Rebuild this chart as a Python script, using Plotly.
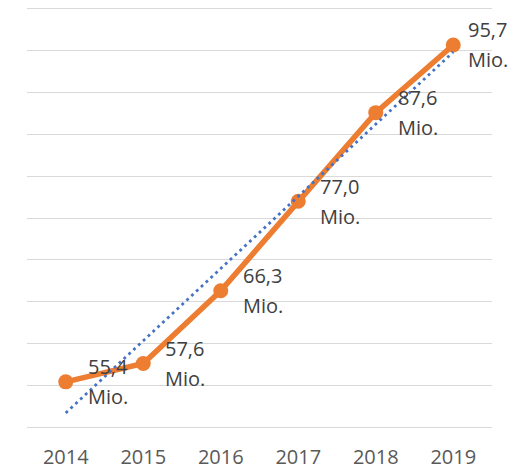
import numpy as np
import plotly.graph_objects as go

years = ["2014", "2015", "2016", "2017", "2018", "2019"]
values = [55.4, 57.6, 66.3, 77.0, 87.6, 95.7]
value_labels = ["55,4", "57,6", "66,3", "77,0", "87,6", "95,7"]
unit_label = "Mio."

xi = np.arange(len(values))
slope, intercept = np.polyfit(xi, values, 1)
trend = [float(slope * i + intercept) for i in xi]

FONT = "Open Sans"
TICK_GREY = "#595959"
LABEL_GREY = "#404040"

fig = go.Figure()
fig.add_trace(go.Scatter(
    x=years, y=values, mode="lines+markers",
    line=dict(color="#ED7D31", width=5.5),
    marker=dict(color="#ED7D31", size=15),
    hoverinfo="skip", showlegend=False,
))
fig.add_trace(go.Scatter(
    x=years, y=trend, mode="lines",
    line=dict(color="#4472C4", width=2.8, dash="2.8px,3.8px"),
    hoverinfo="skip", showlegend=False,
))

n = len(values)
for i, (v, t) in enumerate(zip(values, value_labels)):
    xs = 20 if i < n - 1 else 13
    for txt, ys in ((t, 15), (unit_label, -15)):
        fig.add_annotation(
            xref="x", yref="y", x=i, y=v, text=txt, showarrow=False,
            xanchor="left", yanchor="middle", align="left",
            xshift=xs, yshift=ys,
            font=dict(family=FONT, size=20, color=LABEL_GREY),
        )

fig.update_layout(
    width=519, height=461,
    margin=dict(l=19, r=35, t=1, b=42, pad=0, autoexpand=False),
    paper_bgcolor="white", plot_bgcolor="white",
    font=dict(family=FONT, size=20, color=TICK_GREY),
    xaxis=dict(
        type="category", range=[-0.5, 5.5], automargin=False,
        showgrid=False, zeroline=False,
        showline=True, mirror=True, linecolor="#D9D9D9", linewidth=1.3,
        ticks="", ticklabelstandoff=12,
        tickfont=dict(family=FONT, size=20, color=TICK_GREY),
    ),
    yaxis=dict(
        range=[50, 100], dtick=5, tick0=50, automargin=False,
        showgrid=True, gridcolor="#D9D9D9", gridwidth=1.3,
        zeroline=False, showline=False, showticklabels=False, ticks="",
    ),
)

fig.write_html("out.html")
